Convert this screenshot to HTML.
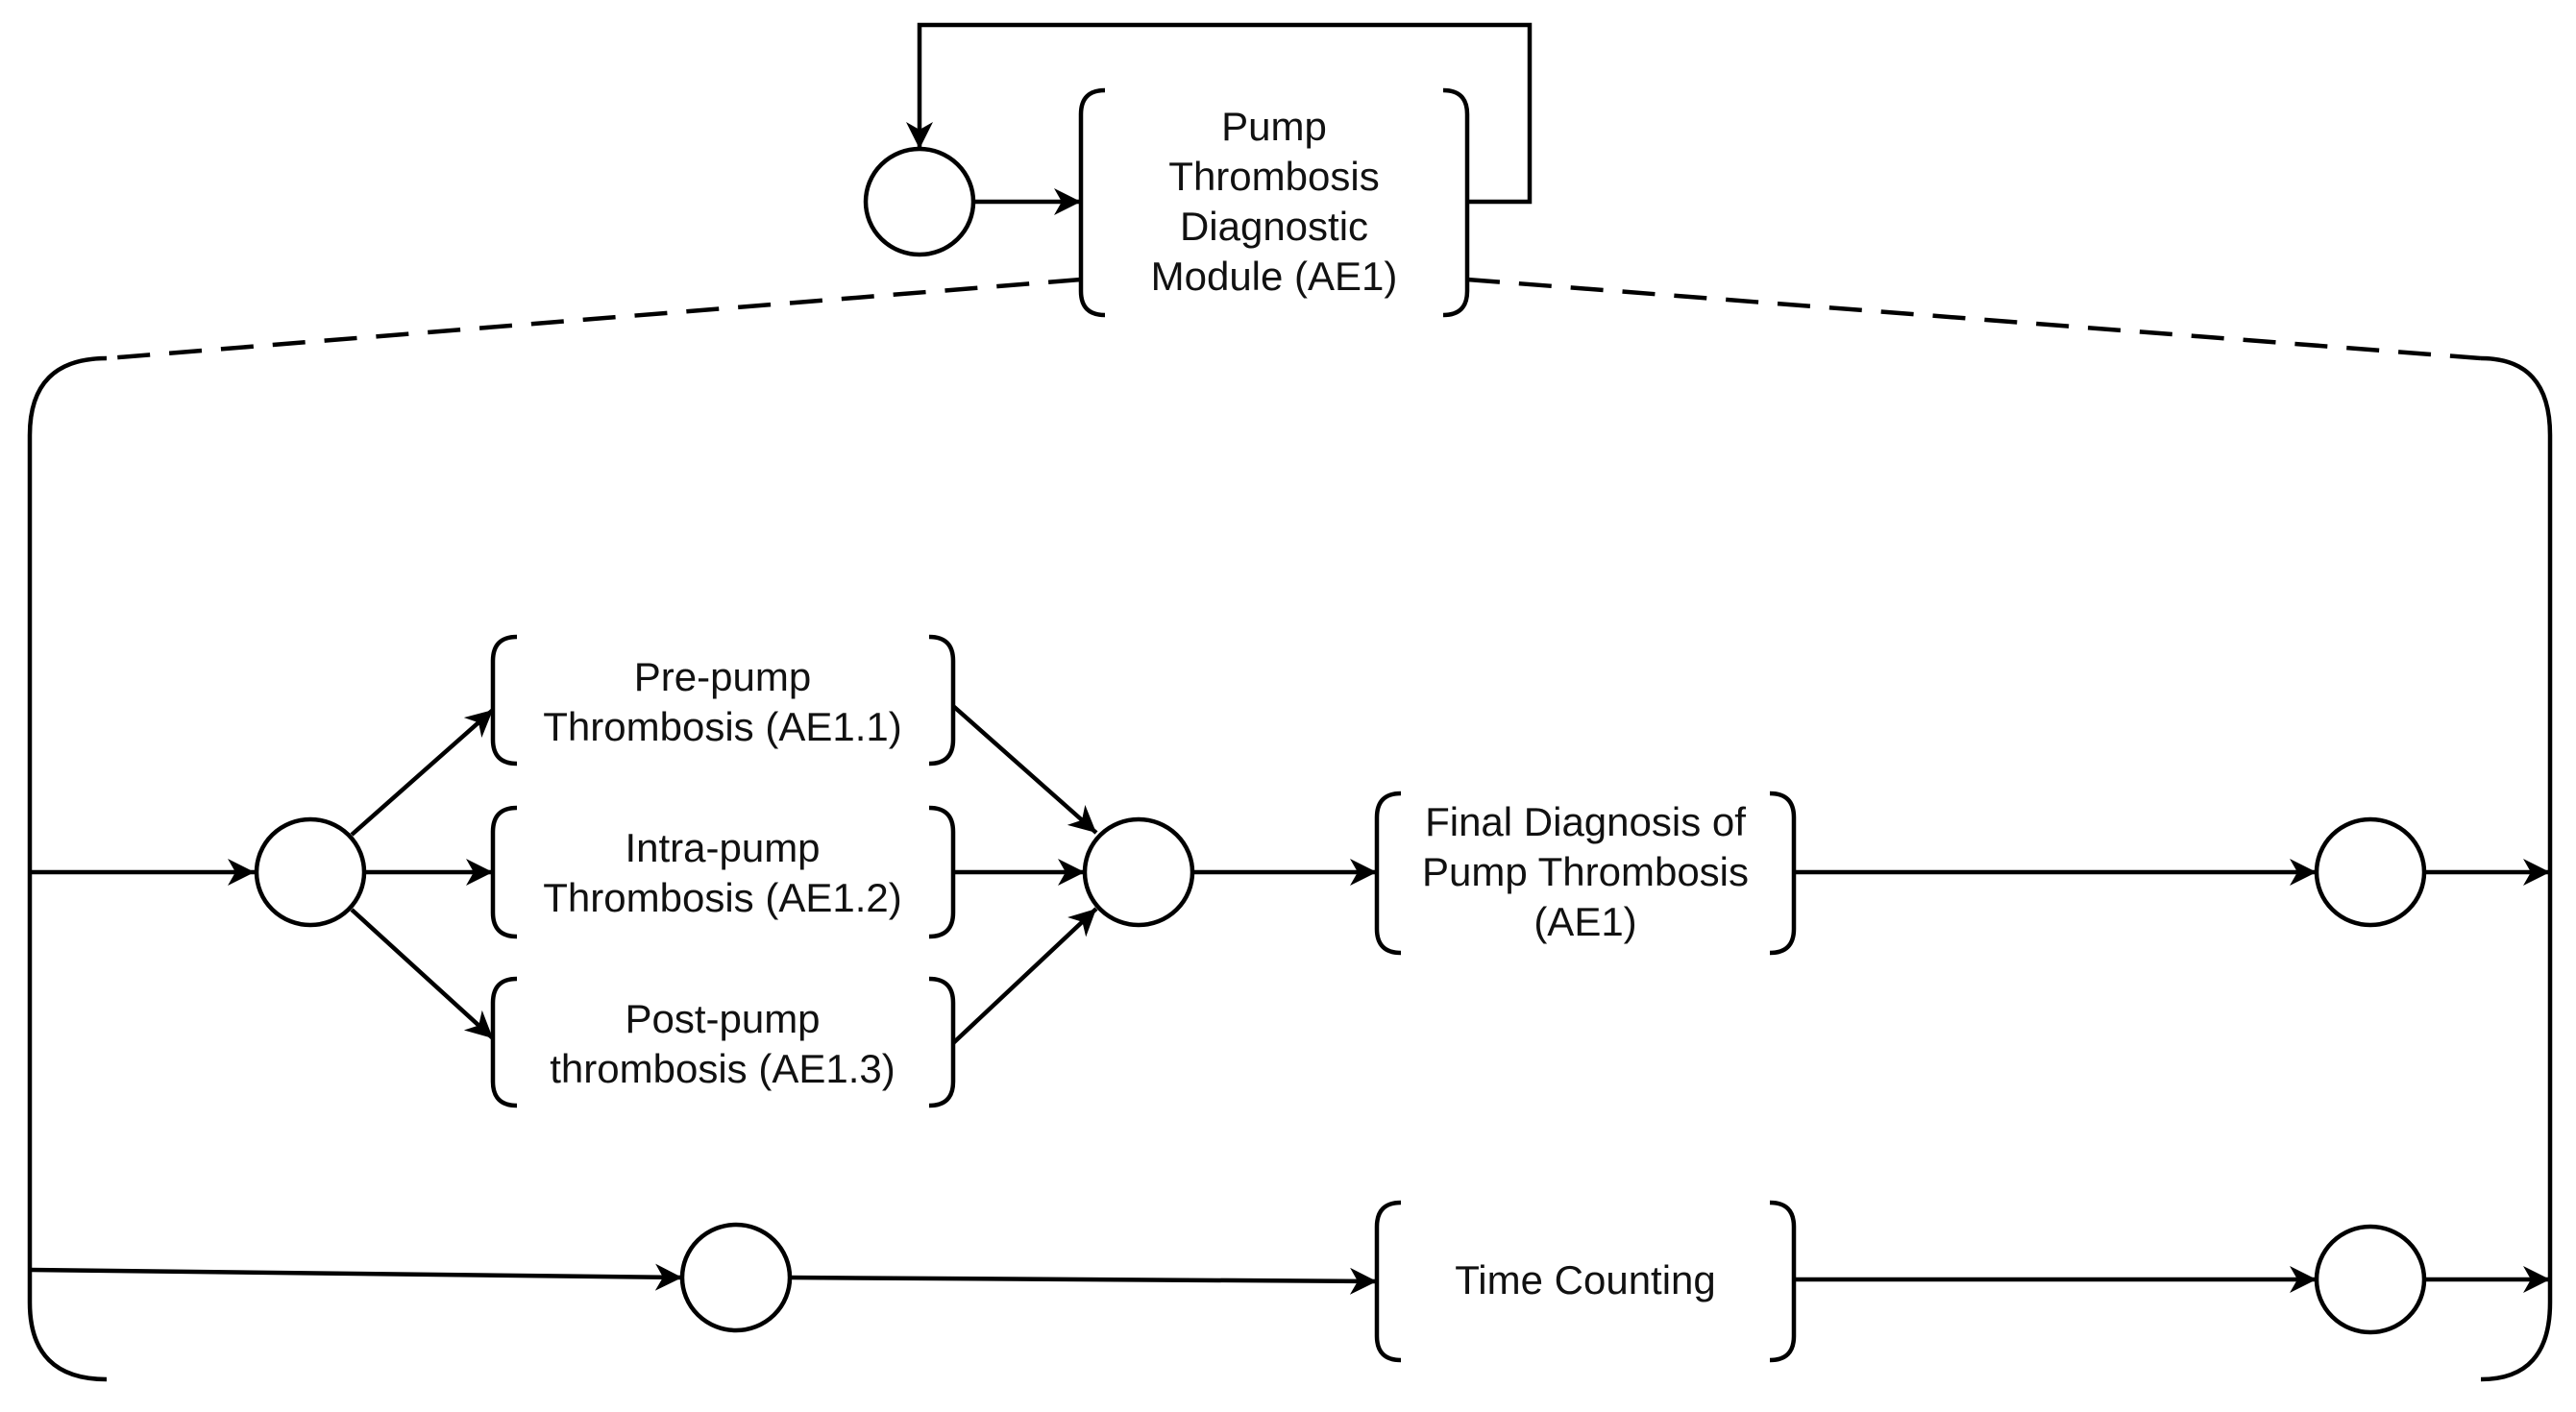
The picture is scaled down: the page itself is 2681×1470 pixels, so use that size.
<!DOCTYPE html>
<html><head><meta charset="utf-8"><style>
html,body{margin:0;padding:0;background:#fff}
svg{display:block}
text{font-family:"Liberation Sans",Arial,sans-serif;font-size:42px;fill:#111;text-anchor:middle}
</style></head><body>
<svg width="2681" height="1470" viewBox="0 0 2681 1470" xmlns="http://www.w3.org/2000/svg">
<defs>
<marker id="a" markerUnits="userSpaceOnUse" markerWidth="30" markerHeight="30" refX="28" refY="14" orient="auto">
<path d="M0,0 L28,14 L0,28 L8,14 z" fill="#000"/>
</marker>
</defs>
<g fill="none" stroke="#000" stroke-width="4.5">
<ellipse cx="957" cy="210" rx="56" ry="55" fill="#fff"/>
<path d="M1013,210 H1125" marker-end="url(#a)"/>
<path d="M1527,210 H1592 V26 H957 V155" marker-end="url(#a)"/>
<path d="M1150,94 Q1125,94 1125,119 V303 Q1125,328 1150,328"/>
<path d="M1502,94 Q1527,94 1527,119 V303 Q1527,328 1502,328"/>
<path d="M1125,291 L111,373" stroke-dasharray="34,20"/>
<path d="M1527,291 L2582,373" stroke-dasharray="34,20"/>
<path d="M111,373 Q31,373 31,453 V1356 Q31,1436 111,1436"/>
<path d="M2582,373 Q2654,373 2654,453 V1356 Q2654,1436 2582,1436"/>
<path d="M31,908 H265" marker-end="url(#a)"/>
<ellipse cx="323" cy="908" rx="56" ry="55" fill="#fff"/>
<path d="M366,869 L513,739" marker-end="url(#a)"/>
<path d="M380,908 H513" marker-end="url(#a)"/>
<path d="M366,947 L513,1081" marker-end="url(#a)"/>
<path d="M538,663 Q513,663 513,688 V770 Q513,795 538,795"/>
<path d="M967,663 Q992,663 992,688 V770 Q992,795 967,795"/>
<path d="M538,841 Q513,841 513,866 V950 Q513,975 538,975"/>
<path d="M967,841 Q992,841 992,866 V950 Q992,975 967,975"/>
<path d="M538,1019 Q513,1019 513,1044 V1126 Q513,1151 538,1151"/>
<path d="M967,1019 Q992,1019 992,1044 V1126 Q992,1151 967,1151"/>
<path d="M992,735 L1141,867" marker-end="url(#a)"/>
<path d="M992,908 H1129" marker-end="url(#a)"/>
<path d="M992,1086 L1141,946" marker-end="url(#a)"/>
<ellipse cx="1185" cy="908" rx="56" ry="55" fill="#fff"/>
<path d="M1241,908 H1433" marker-end="url(#a)"/>
<path d="M1458,826 Q1433,826 1433,851 V967 Q1433,992 1458,992"/>
<path d="M1842,826 Q1867,826 1867,851 V967 Q1867,992 1842,992"/>
<path d="M1867,908 H2411" marker-end="url(#a)"/>
<ellipse cx="2467" cy="908" rx="56" ry="55" fill="#fff"/>
<path d="M2523,908 H2654" marker-end="url(#a)"/>
<path d="M31,1322 L710,1330" marker-end="url(#a)"/>
<ellipse cx="766" cy="1330" rx="56" ry="55" fill="#fff"/>
<path d="M822,1330 L1433,1334" marker-end="url(#a)"/>
<path d="M1458,1252 Q1433,1252 1433,1277 V1391 Q1433,1416 1458,1416"/>
<path d="M1842,1252 Q1867,1252 1867,1277 V1391 Q1867,1416 1842,1416"/>
<path d="M1867,1332 H2411" marker-end="url(#a)"/>
<ellipse cx="2467" cy="1332" rx="56" ry="55" fill="#fff"/>
<path d="M2523,1332 H2654" marker-end="url(#a)"/>
</g>
<text x="1326" y="146">Pump</text>
<text x="1326" y="198">Thrombosis</text>
<text x="1326" y="250">Diagnostic</text>
<text x="1326" y="302">Module (AE1)</text>
<text x="752" y="719">Pre-pump</text>
<text x="752" y="771">Thrombosis (AE1.1)</text>
<text x="752" y="897">Intra-pump</text>
<text x="752" y="949">Thrombosis (AE1.2)</text>
<text x="752" y="1075">Post-pump</text>
<text x="752" y="1127">thrombosis (AE1.3)</text>
<text x="1650" y="870">Final Diagnosis of</text>
<text x="1650" y="922">Pump Thrombosis</text>
<text x="1650" y="974">(AE1)</text>
<text x="1650" y="1347">Time Counting</text>
</svg>
</body></html>
